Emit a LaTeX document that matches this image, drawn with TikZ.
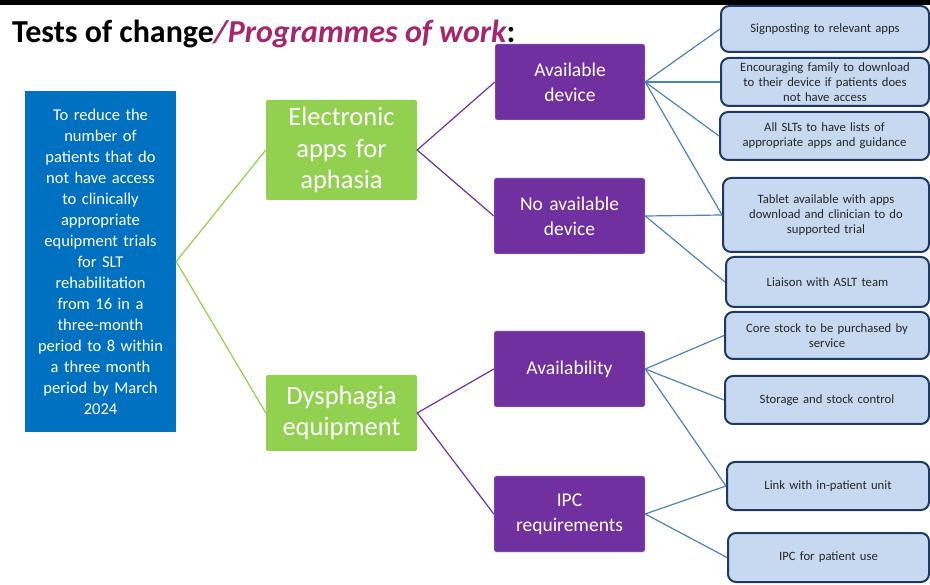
\documentclass[tikz,border=0pt]{standalone}
\usepackage{fontspec}
\setmainfont{Carlito}
\usepackage{xcolor}
\usepackage{tikz}

\definecolor{goalblue}{HTML}{0070C0}
\definecolor{drivergreen}{HTML}{92D050}
\definecolor{changepurple}{HTML}{7030A0}
\definecolor{idealight}{HTML}{C6D9F1}
\definecolor{ideaedge}{HTML}{1F3864}
\definecolor{linkblue}{HTML}{4F81BD}
\definecolor{titlemagenta}{RGB}{166,38,110}

\begin{document}
\begin{tikzpicture}[x=1pt, y=-1pt,
        goalbox/.style={fill=goalblue, text=white, inner sep=0pt, align=center,
            text width=145pt, font=\fontsize{16.5}{21}\selectfont},
        driverbox/.style={fill=drivergreen, text=white, inner sep=0pt, align=center,
            rounded corners=2pt, minimum width=151pt, text width=147pt,
            font=\fontsize{26.5}{31.5}\selectfont},
        changebox/.style={fill=changepurple, draw=white!80!changepurple, text=white,
            inner sep=0pt, align=center, rounded corners=2pt, minimum height=76pt,
            text width=147pt, font=\fontsize{19.5}{25}\selectfont},
        ideabox/.style={fill=idealight, draw=ideaedge, line width=2pt, rounded corners=8pt,
            text=black!85, inner sep=0pt, align=center, text width=197pt,
            font=\fontsize{12.7}{15}\selectfont},
        greenlink/.style={drivergreen, line width=1.2pt},
        purplelink/.style={changepurple, line width=1.2pt},
        bluelink/.style={linkblue, line width=1.2pt}]
        \useasboundingbox (0, 0) rectangle (930, 585);
        \fill [black] (0, 0) rectangle (930, 5);

        \node [anchor=base west, inner sep=0pt, font=\fontsize{32}{38}\selectfont\bfseries] (title) at (12, 43)
            {Tests of change\textcolor{titlemagenta}{\itshape/Programmes of work}:};

        % aim
        \node [goalbox, minimum width=151pt, minimum height=341pt] (aim) at (100.5, 261.5)
            {To reduce the\\ number of\\ patients that do\\ not have access\\ to clinically\\ appropriate\\
             equipment trials\\ for SLT\\ rehabilitation\\ from 16 in a\\ three-month\\ period to 8 within\\
             a three month\\ period by March\\ 2024};

        % primary drivers
        \node [driverbox, minimum height=100pt] (apps) at (341.5, 150) {Electronic\\ apps for\\ aphasia};
        \node [driverbox, minimum height=76pt] (dys) at (341.5, 413) {Dysphagia\\ equipment};

        % secondary drivers
        \node [changebox, minimum width=150pt] (avail) at (570, 82) {Available\\ device};
        \node [changebox, minimum width=151pt] (noavail) at (569.5, 216) {No available\\ device};
        \node [changebox, minimum width=151pt] (stock) at (569.5, 369) {Availability};
        \node [changebox, minimum width=151pt] (ipc) at (569.5, 514) {IPC\\ requirements};

        % change ideas
        \node [ideabox, minimum width=208pt, minimum height=46pt] (s1) at (825, 29) {Signposting to relevant apps};
        \node [ideabox, minimum width=208pt, minimum height=48pt] (s2) at (825, 82)
            {Encouraging family to download\\ to their device if patients does\\ not have access};
        \node [ideabox, minimum width=209pt, minimum height=48pt] (s3) at (824.5, 136)
            {All SLTs to have lists of\\ appropriate apps and guidance};
        \node [ideabox, minimum width=206pt, minimum height=74pt] (s4) at (826, 215)
            {Tablet available with apps\\ download and clinician to do\\ supported trial};
        \node [ideabox, minimum width=203pt, minimum height=50pt] (s5) at (827.5, 282) {Liaison with ASLT team};
        \node [ideabox, minimum width=204pt, minimum height=47pt] (s6) at (827, 335.5)
            {Core stock to be purchased by\\ service};
        \node [ideabox, minimum width=204pt, minimum height=48pt] (s7) at (827, 400) {Storage and stock control};
        \node [ideabox, minimum width=202pt, minimum height=48pt] (s8) at (828, 486) {Link with in-patient unit};
        \node [ideabox, minimum width=201pt, minimum height=49pt] (s9) at (828.5, 557.5) {IPC for patient use};

        \draw [greenlink] (apps.west) -- (aim.east) -- (dys.west);
        \draw [purplelink] (avail.west) -- (apps.east) -- (noavail.west);
        \draw [purplelink] (stock.west) -- (dys.east) -- (ipc.west);

        \foreach \t in {s1, s2, s3, s4}
            \draw [bluelink] (avail.east) -- (\t.west);
        \foreach \t in {s4, s5}
            \draw [bluelink] (noavail.east) -- (\t.west);
        \foreach \t in {s6, s7, s8}
            \draw [bluelink] (stock.east) -- (\t.west);
        \foreach \t in {s8, s9}
            \draw [bluelink] (ipc.east) -- (\t.west);
    \end{tikzpicture}
\end{document}
